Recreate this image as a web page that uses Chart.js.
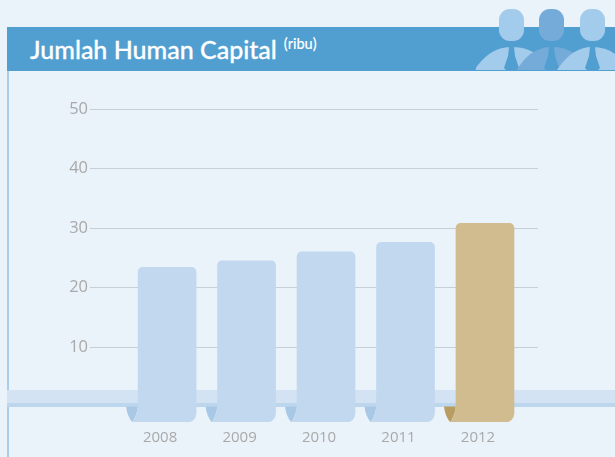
<!DOCTYPE html>
<html><head><meta charset="utf-8">
<style>
html,body{margin:0;padding:0;background:#eaf2fa;width:615px;height:457px;overflow:hidden}
#wrap{position:relative;width:615px;height:457px}
.abs{position:absolute}
#hdr{left:7px;top:27px;width:608px;height:44px;background:#519fd0}
#rule{left:7px;top:71px;width:2px;height:386px;background:#a8cdea}
#band{left:7px;top:390px;width:608px;height:14px;background:#d3e3f4}
#band2{left:7px;top:403px;width:608px;height:4px;background:#bcd6ee}
#title{left:30px;top:34px;color:#fff;font:500 25px Lato,sans-serif;white-space:nowrap;-webkit-text-stroke:0.3px #fff}
#title sup{font-size:14.5px;position:relative;top:-10px;vertical-align:baseline;margin-left:7px;-webkit-text-stroke:0.1px #fff}
canvas{position:absolute;left:0;top:0}
svg{position:absolute;left:460px;top:0}
</style>
<script src="https://cdn.jsdelivr.net/npm/chart.js@4"></script>
</head><body><div id="wrap">
<div class="abs" id="hdr"></div><div class="abs" id="rule"></div>
<div class="abs" id="band"></div><div class="abs" id="band2"></div>
<svg width="155" height="71" viewBox="0 0 155 71">
<g><rect x="39" y="9" width="25" height="32" rx="11" fill="#a3cbec"/>
<path d="M16 70 Q15 68 18 65 Q32 47 51 47 Q72 47 82 60 L70 70 Z" fill="#a3cbec"/>
<path d="M49 47h5l1 9 4 12-2 2h-11l-2-2 4-12z" fill="#519fd0"/></g>
<g><rect x="79" y="9" width="25" height="32" rx="11" fill="#74abd8"/>
<path d="M57 70 Q70 47 92 47 Q110 47 122 60 L110 70 Z" fill="#74abd8"/>
<path d="M89 47h5l1 9 4 12-2 2h-11l-2-2 4-12z" fill="#519fd0"/></g>
<g><rect x="120" y="9" width="25" height="32" rx="11" fill="#a3cbec"/>
<path d="M97 70 Q112 47 132 47 Q146 47 155 54 L155 70 Z" fill="#a3cbec"/>
<path d="M130 47h5l1 9 4 12-2 2h-11l-2-2 4-12z" fill="#519fd0"/></g>
</svg>
<div class="abs" id="title">Jumlah Human Capital<sup>(ribu)</sup></div>
<canvas id="c" width="615" height="457"></canvas>
</div>
<script>
const years = [2008, 2009, 2010, 2011, 2012];
const values = [23.4, 24.5, 26.0, 27.6, 30.8];
const barColors = ['#c2d8ef', '#c2d8ef', '#c2d8ef', '#c2d8ef', '#d1bc8f'];
const foldColors = ['#a9c8e6', '#a9c8e6', '#a9c8e6', '#a9c8e6', '#b89c62'];
const yTicks = [10, 20, 30, 40, 50];
const barFoot = -2.6;

const foldPlugin = {
  id: 'fold',
  beforeDatasetsDraw(chart) {
    const { ctx, scales } = chart;
    const y0 = scales.y.getPixelForValue(0), yb = scales.y.getPixelForValue(barFoot);
    chart.getDatasetMeta(0).data.forEach((bar, i) => {
      const l = bar.x - bar.width / 2;
      ctx.save();
      ctx.fillStyle = foldColors[i];
      ctx.beginPath();
      ctx.moveTo(l - 12, y0);
      ctx.lineTo(l, y0);
      ctx.quadraticCurveTo(l - 2, yb - 4, l - 6, yb);
      ctx.quadraticCurveTo(l - 11, yb - 6, l - 12, y0);
      ctx.fill();
      ctx.restore();
    });
  },
  afterDatasetsDraw(chart) {
    const { ctx, scales } = chart;
    const y0 = scales.y.getPixelForValue(0), yb = scales.y.getPixelForValue(barFoot);
    chart.getDatasetMeta(0).data.forEach((bar, i) => {
      const l = bar.x - bar.width / 2;
      ctx.save();
      ctx.fillStyle = barColors[i];
      ctx.beginPath();
      ctx.moveTo(l + 1, y0 - 2);
      ctx.lineTo(l, y0 - 2);
      ctx.quadraticCurveTo(l - 1, yb - 5, l - 6, yb);
      ctx.lineTo(l + 1, yb);
      ctx.fill();
      ctx.restore();
    });
  }
};

new Chart(document.getElementById('c'), {
  type: 'bar',
  data: {
    datasets: [{
      data: years.map((y, i) => ({ x: y, y: values[i] })),
      base: barFoot,
      backgroundColor: barColors,
      barThickness: 58,
      borderSkipped: false,
      borderRadius: { topLeft: 5, topRight: 5, bottomLeft: 0, bottomRight: 9 }
    }]
  },
  plugins: [foldPlugin],
  options: {
    responsive: false,
    animation: false,
    layout: { padding: { top: 109, right: 77, bottom: 0, left: 0 } },
    plugins: { legend: { display: false }, tooltip: { enabled: false } },
    scales: {
      x: {
        type: 'linear',
        offset: false,
        min: 2007.03,
        max: 2012.667,
        grid: { display: false },
        border: { display: false },
        afterBuildTicks: s => { s.ticks = years.map(v => ({ value: v })); },
        afterFit: s => { s.height = 35; },
        ticks: {
          autoSkip: false, maxRotation: 0, padding: -1, labelOffset: -7,
          color: '#a9a9a9',
          font: { family: 'Open Sans', size: 15 },
          callback: v => String(v)
        }
      },
      y: {
        min: barFoot,
        max: 50,
        grid: { color: '#c6ced8', lineWidth: 1, drawTicks: false },
        border: { display: false },
        afterBuildTicks: s => { s.ticks = yTicks.map(v => ({ value: v })); },
        afterFit: s => { s.width = 90; },
        ticks: {
          padding: 2,
          color: '#a9a9a9',
          font: { family: 'Open Sans', size: 16.5 }
        }
      }
    }
  }
});
</script>
</body></html>
